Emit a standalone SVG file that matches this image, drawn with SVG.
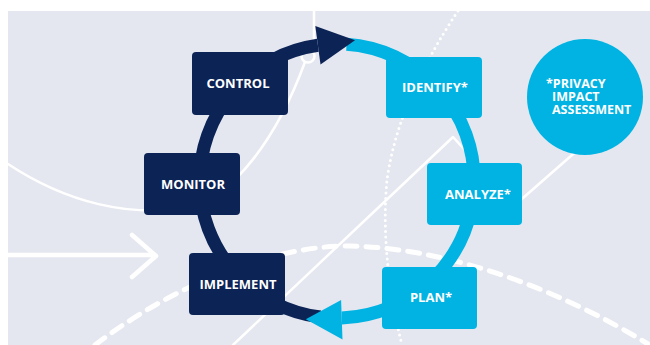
<svg xmlns="http://www.w3.org/2000/svg" width="650" height="345" viewBox="0 0 650 345">
<style>
.bgl{fill:none;stroke:#ffffff;stroke-linecap:round;stroke-linejoin:round}
.navy{fill:#0c2356}
.cyan{fill:#00b3e3}
.lbl{font-family:"Open Sans","Liberation Sans",sans-serif;font-weight:700;font-size:13px;fill:#ffffff;text-anchor:middle}
.lbl2{font-family:"Open Sans","Liberation Sans",sans-serif;font-weight:700;font-size:12.5px;fill:#ffffff}
</style>
<rect x="0" y="0" width="650" height="345" fill="#ffffff"/>
<rect x="8" y="11" width="642" height="334" fill="#e4e7ef"/>
<g id="background">
<path class="bgl" stroke-width="2.5" d="M8 164 C70 205 130 215 180 209 C235 202 280 130 305 62"/>
<path class="bgl" stroke-width="2.5" d="M314 11 L314 52"/>
<circle cx="308" cy="56" r="6.5" class="bgl" stroke-width="2.5"/>
<path class="bgl" stroke-width="3" stroke-dasharray="0 5.5" d="M458 11 C425 60 395 120 387 180 C382 230 388 290 402 345"/>
<path class="bgl" stroke-width="2.5" d="M233 345 L453 137 L515 205 L580 148"/>
<path class="bgl" stroke-width="5" stroke-linecap="butt" stroke-dasharray="12 9" d="M95 345 C180 280 280 245 350 246 C450 248 560 290 648 344"/>
<path class="bgl" stroke-width="4.5" d="M8 255 H155 M132 235 L156 256 L132 277"/>
</g>
<g id="connectors">
<path d="M346.6 44.3 A137 137 0 0 1 341.8 317.9" fill="none" stroke="#00b3e3" stroke-width="13"/>
<path d="M320.3 317 A137 137 0 0 1 317.9 45.3" fill="none" stroke="#0c2356" stroke-width="13"/>
<polygon class="navy" points="315.3,26 320.5,64.6 355,40.3"/>
<polygon class="cyan" points="341.1,299.9 342.5,339.4 305.8,319.2"/>
</g>
<g id="control"><rect class="navy" x="192" y="52" width="96" height="63" rx="4"/><text class="lbl" x="238" y="88">CONTROL</text></g>
<g id="monitor"><rect class="navy" x="144" y="153" width="96" height="62" rx="4"/><text class="lbl" x="193" y="189">MONITOR</text></g>
<g id="implement"><rect class="navy" x="189" y="253" width="96" height="62" rx="4"/><text class="lbl" x="238" y="289">IMPLEMENT</text></g>
<g id="identify"><rect class="cyan" x="386" y="57" width="96" height="61" rx="4"/><text class="lbl" x="435" y="92">IDENTIFY*</text></g>
<g id="analyze"><rect class="cyan" x="427" y="163" width="95" height="62" rx="4"/><text class="lbl" x="478" y="199">ANALYZE*</text></g>
<g id="plan"><rect class="cyan" x="382" y="267" width="95" height="62" rx="4"/><text class="lbl" x="431" y="302">PLAN*</text></g>
<g id="pia"><circle class="cyan" cx="585" cy="97" r="58"/>
<text class="lbl2" x="546" y="88">*PRIVACY</text>
<text class="lbl2" x="552" y="101">IMPACT</text>
<text class="lbl2" x="552" y="114">ASSESSMENT</text></g>
</svg>
